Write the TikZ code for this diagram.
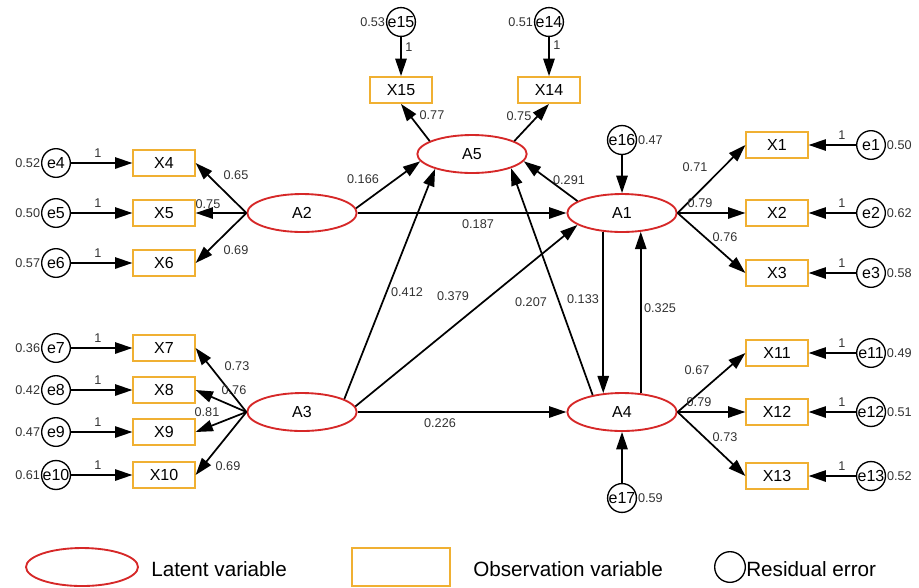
\documentclass[tikz,border=0pt]{standalone}
\usepackage{fontspec}
\setmainfont{Liberation Sans}
\usetikzlibrary{arrows.meta,shapes.geometric}

\definecolor{latred}{RGB}{214,40,40}
\definecolor{obsorange}{RGB}{240,176,50}
\definecolor{coefgray}{RGB}{50,50,50}

\begin{document}
\begin{tikzpicture}[x=0.75pt,y=-0.75pt,
  latent/.style={ellipse,draw=latred,line width=1.4pt,minimum width=82pt,minimum height=28.5pt,inner sep=0pt,font=\fontsize{12}{13}\selectfont},
  observed/.style={rectangle,draw=obsorange,line width=1.4pt,minimum width=46pt,minimum height=19.5pt,inner sep=0pt,font=\fontsize{12}{13}\selectfont},
  residual/.style={circle,draw,line width=1pt,minimum size=21.5pt,inner sep=0pt,font=\fontsize{12}{13}\selectfont,label distance=2.5pt},
  coef/.style={font=\fontsize{9.5}{10}\selectfont,text=coefgray,inner sep=0.5pt},
  arr/.style={-{Triangle[length=13pt,width=8.5pt]},line width=1.3pt},
  legendtext/.style={font=\fontsize{15.5}{17}\selectfont,anchor=west,inner sep=0pt}]
\useasboundingbox (0,0) rectangle (919,587);

% latent variables
\node[latent] (A1) at (622,213) {A1};
\node[latent] (A2) at (302,213) {A2};
\node[latent] (A3) at (302,412) {A3};
\node[latent] (A4) at (622,412) {A4};
\node[latent] (A5) at (472,154) {A5};

% observed variables
\node[observed] (X1) at (777,145) {X1};
\node[observed] (X2) at (777,213) {X2};
\node[observed] (X3) at (777,273) {X3};
\node[observed] (X4) at (164,163) {X4};
\node[observed] (X5) at (164,213) {X5};
\node[observed] (X6) at (164,263) {X6};
\node[observed] (X7) at (164,348) {X7};
\node[observed] (X8) at (164,390) {X8};
\node[observed] (X9) at (164,432) {X9};
\node[observed] (X10) at (164,475) {X10};
\node[observed] (X11) at (777,353) {X11};
\node[observed] (X12) at (777,412) {X12};
\node[observed] (X13) at (777,476) {X13};
\node[observed] (X14) at (549,90) {X14};
\node[observed] (X15) at (401,90) {X15};

% residual errors
\node[residual,label={[coef]right:0.50}] (e1) at (871,145) {e1};
\node[residual,label={[coef]right:0.62}] (e2) at (871,213) {e2};
\node[residual,label={[coef]right:0.58}] (e3) at (871,273) {e3};
\node[residual,label={[coef]left:0.52}] (e4) at (56,163) {e4};
\node[residual,label={[coef]left:0.50}] (e5) at (56,213) {e5};
\node[residual,label={[coef]left:0.57}] (e6) at (56,263) {e6};
\node[residual,label={[coef]left:0.36}] (e7) at (56,348) {e7};
\node[residual,label={[coef]left:0.42}] (e8) at (56,390) {e8};
\node[residual,label={[coef]left:0.47}] (e9) at (56,432) {e9};
\node[residual,label={[coef]left:0.61}] (e10) at (56,475) {e10};
\node[residual,label={[coef]right:0.49}] (e11) at (871,353) {e11};
\node[residual,label={[coef]right:0.51}] (e12) at (871,412) {e12};
\node[residual,label={[coef]right:0.52}] (e13) at (871,476) {e13};
\node[residual,label={[coef]left:0.51}] (e14) at (549,22) {e14};
\node[residual,label={[coef]left:0.53}] (e15) at (401,22) {e15};
\node[residual,label={[coef]right:0.47}] (e16) at (622,140) {e16};
\node[residual,label={[coef]right:0.59}] (e17) at (622,498) {e17};

% errors to indicators
\draw[arr] (e1) -- (X1) node[coef] at (842,135) {1};
\draw[arr] (e2) -- (X2) node[coef] at (842,203) {1};
\draw[arr] (e3) -- (X3) node[coef] at (842,263) {1};
\draw[arr] (e4) -- (X4) node[coef] at (98,153) {1};
\draw[arr] (e5) -- (X5) node[coef] at (98,203) {1};
\draw[arr] (e6) -- (X6) node[coef] at (98,253) {1};
\draw[arr] (e7) -- (X7) node[coef] at (98,338) {1};
\draw[arr] (e8) -- (X8) node[coef] at (98,380) {1};
\draw[arr] (e9) -- (X9) node[coef] at (98,422) {1};
\draw[arr] (e10) -- (X10) node[coef] at (98,465) {1};
\draw[arr] (e11) -- (X11) node[coef] at (842,343) {1};
\draw[arr] (e12) -- (X12) node[coef] at (842,402) {1};
\draw[arr] (e13) -- (X13) node[coef] at (842,466) {1};
\draw[arr] (e14) -- (X14) node[coef] at (557,45) {1};
\draw[arr] (e15) -- (X15) node[coef] at (409,47) {1};
\draw[arr] (e16) -- (A1);
\draw[arr] (e17) -- (A4);

% loadings
\draw[arr] (A1.east) -- (X1.west) node[coef] at (695,167) {0.71};
\draw[arr] (A1.east) -- (X2.west) node[coef] at (700,203) {0.79};
\draw[arr] (A1.east) -- (X3.west) node[coef] at (725,237) {0.76};
\draw[arr] (A2.west) -- (X4.east) node[coef] at (236,175) {0.65};
\draw[arr] (A2.west) -- (X5.east) node[coef] at (208,204) {0.75};
\draw[arr] (A2.west) -- (X6.east) node[coef] at (236,250) {0.69};
\draw[arr] (A3.west) -- (X7.east) node[coef] at (237,366) {0.73};
\draw[arr] (A3.west) -- (X8.east) node[coef] at (234,390) {0.76};
\draw[arr] (A3.west) -- (X9.east) node[coef] at (207,412) {0.81};
\draw[arr] (A3.west) -- (X10.east) node[coef] at (228,466) {0.69};
\draw[arr] (A4.east) -- (X11.west) node[coef] at (697,370) {0.67};
\draw[arr] (A4.east) -- (X12.west) node[coef] at (699,402) {0.79};
\draw[arr] (A4.east) -- (X13.west) node[coef] at (725,437) {0.73};
\draw[arr] (A5.163) -- (X15.south) node[coef] at (432,115) {0.77};
\draw[arr] (A5.17) -- (X14.south) node[coef] at (519,116) {0.75};

% structural paths
\draw[arr] (A2.5) -- (A5.188) node[coef] at (363,179) {0.166};
\draw[arr] (A2.east) -- (A1.west) node[coef] at (478,224) {0.187};
\draw[arr] (A1.165) -- (A5.-8) node[coef] at (569,180) {0.291};
\draw[arr] (A3.17) -- (A5.202) node[coef] at (407,292) {0.412};
\draw[arr] (A3.6) -- (A1.195) node[coef] at (453,296) {0.379};
\draw[arr] (A4.150) -- (A5.-20) node[coef] at (531,302) {0.207};
\draw[arr] (A1.225) -- (A4.135) node[coef] at (583,299) {0.133};
\draw[arr] (A4.45) -- (A1.-45) node[coef] at (660,308) {0.325};
\draw[arr] (A3.east) -- (A4.west) node[coef] at (440,423) {0.226};

% legend
\node[latent,minimum width=84pt] (legLatent) at (82,567) {};
\node[legendtext] (legLatentText) at (151,569) {Latent variable};
\node[observed,minimum width=73pt,minimum height=28.5pt] (legObserved) at (401,567) {};
\node[legendtext] (legObservedText) at (473,569) {Observation variable};
\node[residual,minimum size=23pt] (legResidual) at (730,567) {};
\node[legendtext] (legResidualText) at (746,569) {Residual error};
\end{tikzpicture}
\end{document}
